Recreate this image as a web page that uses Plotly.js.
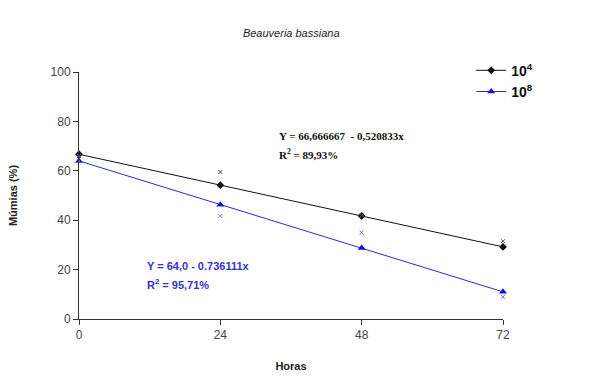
<!DOCTYPE html>
<html><head><meta charset="utf-8">
<script src="https://cdn.plot.ly/plotly-3.0.1.min.js"></script>
<style>html,body{margin:0;padding:0;background:#fff}#c{width:598px;height:378px}</style>
</head><body><div id="c"></div>
<script>
const horas = [0, 24, 48, 72];
const fit4 = [66.7, 54.2, 41.7, 29.2];
const fit8 = [64.0, 46.3, 28.7, 11.0];
const obs4 = [66, 59.5, 42, 31.5];
const obs8 = [64, 41.7, 35, 9];
const xTicks = [0, 24, 48, 72];
const yTicks = [0, 20, 40, 60, 80, 100];

const data = [
  {x: horas, y: fit4, name: '10<sup>4</sup>', mode: 'lines+markers', type: 'scatter',
   line: {color: '#111', width: 1}, marker: {symbol: 'diamond', size: 6, color: '#111'}, cliponaxis: false},
  {x: horas, y: fit8, name: '10<sup>8</sup>', mode: 'lines+markers', type: 'scatter',
   line: {color: '#2a2ad8', width: 1}, marker: {symbol: 'triangle-up', size: 7, color: '#1010e0'}, cliponaxis: false},
  {x: horas, y: obs4, mode: 'markers', showlegend: false, type: 'scatter',
   marker: {symbol: 'x-thin-open', size: 4, color: '#555', line: {color: '#555', width: 1}}, cliponaxis: false},
  {x: horas, y: obs8, mode: 'markers', showlegend: false, type: 'scatter',
   marker: {symbol: 'x-thin-open', size: 4, color: '#6a6ae0', line: {color: '#6a6ae0', width: 1}}, cliponaxis: false}
];

const layout = {
  width: 598, height: 378,
  margin: {l: 79, r: 95, t: 72, b: 59},
  paper_bgcolor: '#fff', plot_bgcolor: '#fff',
  font: {family: 'Liberation Sans, Arial, sans-serif', size: 12, color: '#333'},
  title: {text: '<i>Beauveria bassiana</i>', x: 0.487, xanchor: 'center', y: 0.912, yanchor: 'middle',
          font: {size: 11, color: '#222'}},
  xaxis: {range: [0, 72], tickvals: xTicks, ticktext: xTicks.map(String), showgrid: false, zeroline: false,
          showline: true, linecolor: '#333', linewidth: 1, ticks: 'outside', ticklen: 5, tickcolor: '#333',
          tickfont: {size: 12, color: '#444'},
          title: {text: '<b>Horas</b>', standoff: 20, font: {size: 11, color: '#222'}}},
  yaxis: {range: [0, 100], tickvals: yTicks, showgrid: false, zeroline: false,
          showline: true, linecolor: '#333', linewidth: 1, ticks: 'outside', ticklen: 5, tickcolor: '#333',
          tickfont: {size: 12, color: '#444'},
          title: {text: '<b>Múmias (%)</b>', standoff: 30, font: {size: 11, color: '#222'}}},
  legend: {x: 0.925, xanchor: 'left', y: 1.07, yanchor: 'top', bgcolor: 'rgba(0,0,0,0)',
           font: {size: 14, color: '#111', family: 'Liberation Sans, Arial, sans-serif', weight: 'bold'},
           tracegroupgap: 0, itemwidth: 30},
  showlegend: true,
  annotations: [
    {xref: 'paper', yref: 'paper', x: 0.466, y: 0.74, xanchor: 'left', yanchor: 'middle', showarrow: false,
     text: '<b>Y = 66,666667  - 0,520833x</b>', font: {family: 'Liberation Serif, serif', size: 11, color: '#111'}},
    {xref: 'paper', yref: 'paper', x: 0.466, y: 0.67, xanchor: 'left', yanchor: 'middle', showarrow: false,
     text: '<b>R<sup>2</sup> = 89,93%</b>', font: {family: 'Liberation Serif, serif', size: 11, color: '#111'}},
    {xref: 'paper', yref: 'paper', x: 0.155, y: 0.215, xanchor: 'left', yanchor: 'middle', showarrow: false,
     text: '<b>Y = 64,0 - 0.736111x</b>', font: {family: 'Liberation Sans, Arial, sans-serif', size: 11, color: '#3333cc'}},
    {xref: 'paper', yref: 'paper', x: 0.155, y: 0.14, xanchor: 'left', yanchor: 'middle', showarrow: false,
     text: '<b>R<sup>2</sup> = 95,71%</b>', font: {family: 'Liberation Sans, Arial, sans-serif', size: 11, color: '#3333cc'}}
  ]
};
Plotly.newPlot('c', data, layout, {staticPlot: true});
</script></body></html>
